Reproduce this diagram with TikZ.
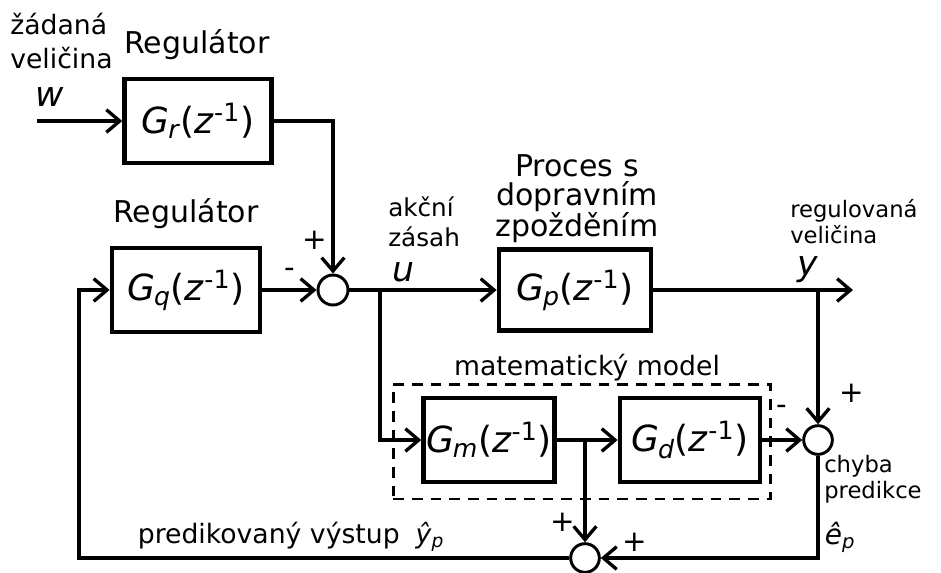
\documentclass[tikz,border=0pt]{standalone}
\usepackage{fontspec}
\setmainfont{DejaVu Sans}
\usetikzlibrary{arrows.meta, positioning}

\newcommand{\tfn}[1]{\textit{G}\textsubscript{\kern-0.06em\textit{#1}}(\textit{z}\textsuperscript{-1})}

\begin{document}
\begin{tikzpicture}[
    x=0.75pt, y=-0.75pt,
    % Styles for blocks and signals
    block/.style={draw, line width=3.6pt, inner sep=0pt, minimum height=63pt, font=\fontsize{27}{28}\selectfont},
    sum/.style={draw, circle, line width=2.2pt, inner sep=0pt, minimum size=21.5pt},
    wire/.style={line width=2.5pt},
    sig/.style={wire, -{Straight Barb[length=10pt, width=17pt]}},
    % Styles for texts
    lbig/.style={inner sep=0pt, align=center, font=\fontsize{22.5}{21.5}\selectfont},
    lmid/.style={inner sep=0pt, align=left, font=\fontsize{20}{25}\selectfont},
    lsmall/.style={inner sep=0pt, align=left, font=\fontsize{17}{19.5}\selectfont},
    var/.style={inner sep=0pt, font=\fontsize{26}{26}\selectfont\itshape},
    sign/.style={inner sep=0pt, font=\fontsize{22}{22}\selectfont}
]
    \useasboundingbox (0,0) rectangle (941,572);

        % --- Blocks ---
        \node[block, minimum width=110pt] (gr) at (198,121) {\tfn{r}};
        \node[block, minimum width=111pt] (gq) at (186,290) {\tfn{q}};
        \node[block, minimum width=114pt, minimum height=60.5pt] (gp) at (575,290) {\tfn{p}};
        \node[block, minimum width=98pt] (gm) at (489,440) {\tfn{m}};
        \node[block, minimum width=105pt] (gd) at (690,440) {\tfn{d}};

        % model frame
        \node[draw, dashed, line width=2pt, dash pattern=on 8pt off 6pt,
              minimum width=283pt, minimum height=86pt] (mdl) at (582,441.5) {};

        % --- Summing points ---
        \node[sum, minimum size=22.5pt] (s1) at (333,290) {};
        \node[sum] (s2) at (818,440) {};
        \node[sum] (s3) at (585,558) {};

        % --- Branch points ---
        \coordinate (win) at (37,121);
        \coordinate (bu) at (380,290);
        \coordinate (by) at (818,290);
        \coordinate (yout) at (853,290);
        \coordinate (bm) at (585,440);
        \coordinate (fb) at (79,558);

        % --- Signals ---
        \draw[sig] (win) -- (gr);
        \draw[sig] (gr) -| (s1);
        \draw[sig] (gq) -- (s1);
        \draw[sig] (s1) -- (gp);
        \draw[sig] (gp) -- (yout);
        \draw[sig] (bu) |- (gm);
        \draw[sig] (gm) -- (gd);
        \draw[sig] (gd) -- (s2);
        \draw[sig] (by) -- (s2);
        \draw[sig] (s2) |- (s3);
        \draw[sig] (bm) -- (s3);
        \draw[sig] (s3) -- (fb) |- (gq);

        % --- Labels ---
        \node[lmid, anchor=west] (wlab) at (10,41) {žádaná\\veličina};
        \node[var] (w) at (50,97) {w};
        \node[lbig] (reg1) at (197,45) {Regulátor};
        \node[lbig] (reg2) at (186,214) {Regulátor};
        \node[lmid, anchor=west, font=\fontsize{18.5}{22.5}\selectfont] (ulab) at (388,222) {akční\\zásah};
        \node[var] (u) at (403,272) {u};
        \node[lbig] (proc) at (577,199) {Proces s\\dopravním\\zpožděním};
        \node[lsmall, anchor=west] (ylab) at (790,222) {regulovaná\\veličina};
        \node[var] (y) at (808,270) {y};
        \node[lmid] (mlab) at (587,368) {matematický model};
        \node[lsmall, anchor=west] (elab) at (824,479) {chyba\\predikce};
        \node[inner sep=0pt, font=\fontsize{21}{21}\selectfont] (e) at (840,537) {\textit{ê}\textsubscript{\textit{p}}};
        \node[lmid] (plab) at (291,537) {predikovaný výstup\; \textit{ŷ}\textsubscript{\textit{p}}};

        % signs
        \node[sign] at (315,240) {+};
        \node[sign] at (290,273) {-};
        \node[sign] at (782,410) {-};
        \node[sign] at (852,393) {+};
        \node[sign] at (563,522) {+};
        \node[sign] at (635,542) {+};

\end{tikzpicture}
\end{document}
